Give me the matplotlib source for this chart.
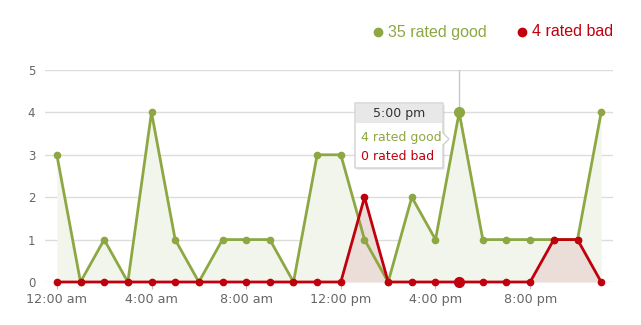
import matplotlib
matplotlib.use("Agg")
import matplotlib.pyplot as plt
from matplotlib.patches import Rectangle, Polygon
from matplotlib.lines import Line2D

hours = list(range(24))
good = [3, 0, 1, 0, 4, 1, 0, 1, 1, 1, 0, 3, 3, 1, 0, 2, 1, 4, 1, 1, 1, 1, 1, 4]
bad = [0, 0, 0, 0, 0, 0, 0, 0, 0, 0, 0, 0, 0, 2, 0, 0, 0, 0, 0, 0, 0, 1, 1, 0]
tick_hours = [0, 4, 8, 12, 16, 20]
hover = 17

GREEN = "#8DA843"
RED = "#C0000D"
GRID = "#DCDCDC"
TXT = "#666666"


def hour_label(h):
    suffix = "am" if h < 12 else "pm"
    hh = h % 12
    if hh == 0:
        hh = 12
    return "%d:00 %s" % (hh, suffix)


W, H = 641, 325
fig = plt.figure(figsize=(W / 100, H / 100), dpi=100)


def fx(px):
    return px / W


def fy(py):
    return 1 - py / H


ax = fig.add_axes([fx(45), fy(282), fx(613) - fx(45), fy(70) - fy(282)])
ax.set_xlim(-0.5, 23.5)
ax.set_ylim(0, 5)

for s in ax.spines.values():
    s.set_visible(False)
ax.set_yticks(range(6))
ax.yaxis.grid(True, color=GRID, lw=1)
ax.set_axisbelow(True)
ax.tick_params(axis="y", length=0, pad=7, labelsize=8.5, labelcolor=TXT)
ax.set_xticks(tick_hours)
ax.set_xticklabels([hour_label(h) for h in tick_hours])
ax.tick_params(axis="x", length=5, color="#C0C0D0", pad=3, labelsize=9.2, labelcolor=TXT)

# crosshair
ax.axvline(hover, color="#C8C8C8", lw=1, zorder=1)

ax.fill_between(hours, good, color="#F2F5EC", zorder=1.5, lw=0)
ax.fill_between(hours, bad, color="#EBDDD8", zorder=1.6, lw=0)
ax.plot(hours, good, color=GREEN, lw=2, marker="o", ms=4.5, zorder=3, clip_on=False)
ax.plot(hours, bad, color=RED, lw=2, marker="o", ms=4.5, zorder=4, clip_on=False)
ax.plot([hover], [good[hover]], "o", color=GREEN, ms=7, zorder=5, clip_on=False)
ax.plot([hover], [bad[hover]], "o", color=RED, ms=7, zorder=5, clip_on=False)

# legend
fig.add_artist(Line2D([fx(378)], [fy(32)], marker="o", ms=6, color=GREEN, transform=fig.transFigure))
fig.text(fx(388), fy(32), "%d rated good" % sum(good), color=GREEN, fontsize=11.5,
         family="Liberation Sans", va="center", ha="left")
fig.add_artist(Line2D([fx(522)], [fy(32)], marker="o", ms=6, color=RED, transform=fig.transFigure))
fig.text(fx(532), fy(32), "%d rated bad" % sum(bad), color=RED, fontsize=11.5,
         family="Liberation Sans", va="center", ha="left")

# tooltip
x0, x1, y0, y1 = 355, 443, 103, 168
shadow = Rectangle((fx(x0 + 2), fy(y1 + 2)), fx(x1 - x0), fy(y0) - fy(y1),
                   transform=fig.transFigure, fc="#000000", alpha=0.07, ec="none", zorder=9)
fig.add_artist(shadow)
box = Polygon([(fx(x0), fy(y0)), (fx(x1), fy(y0)), (fx(x1), fy(133)), (fx(x1 + 6), fy(139)),
               (fx(x1), fy(145)), (fx(x1), fy(y1)), (fx(x0), fy(y1))],
              closed=True, transform=fig.transFigure, fc="white", ec="#D0D0D0", lw=1, zorder=10)
fig.add_artist(box)
fig.add_artist(Rectangle((fx(x0 + 1), fy(123)), fx(x1 - x0 - 2), fy(y0 + 1) - fy(123),
                         transform=fig.transFigure, fc="#E8E8E8", ec="none", zorder=11))
fig.text(fx((x0 + x1) / 2), fy(113.5), hour_label(hover), color="#333333",
         fontsize=9, ha="center", va="center", zorder=12)
fig.text(fx(361), fy(137), "%d rated good" % good[hover], color=GREEN, fontsize=9, va="center", zorder=12)
fig.text(fx(361), fy(157), "%d rated bad" % bad[hover], color=RED, fontsize=9, va="center", zorder=12)

fig.savefig("out.png", dpi=100)
